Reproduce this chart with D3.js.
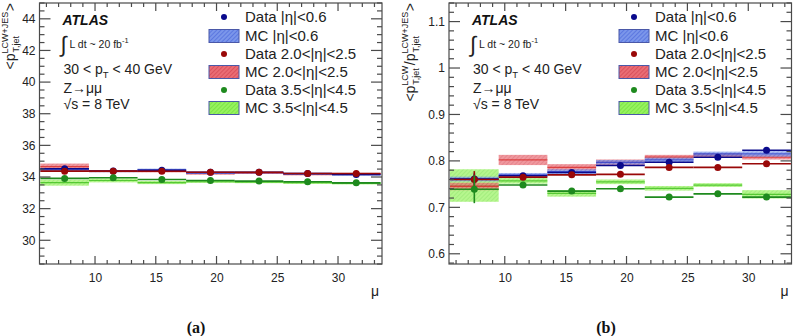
<!DOCTYPE html>
<html><head><meta charset="utf-8">
<script src="https://cdn.jsdelivr.net/npm/d3@7"></script>
<style>
body{margin:0;background:#fff;}
svg{display:block;font-family:"Liberation Sans",Arial,Helvetica,sans-serif;}
</style></head>
<body>
<svg id="c" width="793" height="336"></svg>
<script>
// ---------- data ----------
const binCenters = [7.5, 11.5, 15.5, 19.5, 23.5, 27.5, 31.5];
const binHalfWidth = 2;
const xTicks = [10, 15, 20, 25, 30];

// panel (a): <pT LCW+JES>
const aTicks = [30, 32, 34, 36, 38, 40, 42, 44];
const aDataCentral = [34.52, 34.38, 34.43, 34.30, 34.30, 34.22, 34.16];
const aDataCentralErr = [0.06, 0.03, 0.03, 0.03, 0.03, 0.03, 0.05];
const aDataForward = [34.37, 34.37, 34.36, 34.30, 34.30, 34.22, 34.22];
const aDataForwardErr = [0.06, 0.03, 0.03, 0.03, 0.03, 0.03, 0.05];
const aDataVeryFwd = [33.91, 33.95, 33.84, 33.78, 33.74, 33.70, 33.63];
const aDataVeryFwdErr = [0.06, 0.03, 0.03, 0.03, 0.03, 0.03, 0.05];
const aMcCentral = [34.45, 34.35, 34.45, 34.25, 34.28, 34.20, 34.15];
const aMcCentralErr = [0.12, 0.05, 0.08, 0.06, 0.05, 0.06, 0.06];
const aMcForward = [34.65, 34.35, 34.35, 34.22, 34.25, 34.18, 34.20];
const aMcForwardErr = [0.20, 0.05, 0.06, 0.08, 0.06, 0.08, 0.06];
const aMcVeryFwd = [33.64, 33.78, 33.65, 33.70, 33.68, 33.64, 33.60];
const aMcVeryFwdErr = [0.19, 0.12, 0.10, 0.07, 0.07, 0.08, 0.07];

// panel (b): <pT LCW / pT LCW+JES>
const bTicks = [0.6, 0.7, 0.8, 0.9, 1, 1.1];
const bDataCentral = [0.761, 0.768, 0.775, 0.790, 0.797, 0.808, 0.823];
const bDataCentralErr = [0.012, 0.004, 0.004, 0.004, 0.004, 0.004, 0.004];
const bDataForward = [0.760, 0.765, 0.770, 0.771, 0.786, 0.786, 0.794];
const bDataForwardErr = [0.018, 0.005, 0.005, 0.004, 0.004, 0.004, 0.004];
const bDataVeryFwd = [0.739, 0.748, 0.735, 0.740, 0.722, 0.729, 0.722];
const bDataVeryFwdErr = [0.030, 0.004, 0.004, 0.004, 0.004, 0.004, 0.004];
const bMcCentral = [0.761, 0.770, 0.777, 0.797, 0.802, 0.815, 0.815];
const bMcCentralErr = [0.005, 0.004, 0.005, 0.005, 0.005, 0.005, 0.006];
const bMcForward = [0.745, 0.802, 0.786, 0.797, 0.808, 0.812, 0.808];
const bMcForwardErr = [0.008, 0.011, 0.007, 0.006, 0.005, 0.005, 0.005];
const bMcVeryFwd = [0.747, 0.757, 0.730, 0.755, 0.741, 0.748, 0.728];
const bMcVeryFwdErr = [0.035, 0.006, 0.007, 0.005, 0.005, 0.004, 0.009];

const legendLabels = ["Data |η|<0.6", "MC |η|<0.6", "Data 2.0<|η|<2.5", "MC 2.0<|η|<2.5", "Data 3.5<|η|<4.5", "MC 3.5<|η|<4.5"];

// ---------- styles ----------
const col = {
  blue:  {data:"#0a0a8c", fill:"#7b96ea", hatch:"#3d5ad6", line:"#3344cc"},
  red:   {data:"#990808", fill:"#ea6c74", hatch:"#c93846", line:"#d82c2c"},
  green: {data:"#1e8a1e", fill:"#96f25e", hatch:"#62d82e", line:"#3fbf1f"}
};

const svg = d3.select("#c");
const defs = svg.append("defs");
Object.entries(col).forEach(([k,c])=>{
  const p = defs.append("pattern").attr("id","pat-"+k).attr("patternUnits","userSpaceOnUse")
    .attr("width",3).attr("height",3).attr("patternTransform","rotate(45)");
  p.append("rect").attr("width",3).attr("height",3).attr("fill",c.fill);
  p.append("line").attr("x1",0).attr("y1",0).attr("x2",0).attr("y2",3).attr("stroke",c.hatch).attr("stroke-width",1);
});

function panel(o){
  const x = d3.scaleLinear().domain(o.xDomain).range([o.left,o.right]);
  const y = d3.scaleLinear().domain(o.yDomain).range([o.bottom,o.top]);
  const g = svg.append("g");

  // MC bands
  const mcs = [["green",o.mcVF,o.mcVFe],["red",o.mcF,o.mcFe],["blue",o.mcC,o.mcCe]];
  mcs.forEach(([k,v,e])=>{
    const gg = g.append("g");
    gg.selectAll("rect").data(binCenters).join("rect")
      .attr("x",(d)=>x(d-binHalfWidth)).attr("width",(d)=>x(d+binHalfWidth)-x(d-binHalfWidth))
      .attr("y",(d,i)=>y(v[i]+e[i])).attr("height",(d,i)=>y(v[i]-e[i])-y(v[i]+e[i]))
      .attr("fill","url(#pat-"+k+")").attr("opacity",0.7);
    gg.selectAll("line").data(binCenters).join("line")
      .attr("x1",(d)=>x(d-binHalfWidth)).attr("x2",(d)=>x(d+binHalfWidth))
      .attr("y1",(d,i)=>y(v[i])).attr("y2",(d,i)=>y(v[i]))
      .attr("stroke",col[k].line).attr("stroke-width",1.2).attr("opacity",0.8);
  });
  // data
  const ds = [["blue",o.dC,o.dCe],["red",o.dF,o.dFe],["green",o.dVF,o.dVFe]];
  ds.forEach(([k,v,e])=>{
    const gg = g.append("g");
    gg.selectAll("line.h").data(binCenters).join("line").attr("class","h")
      .attr("x1",(d)=>x(d-binHalfWidth)).attr("x2",(d)=>x(d+binHalfWidth))
      .attr("y1",(d,i)=>y(v[i])).attr("y2",(d,i)=>y(v[i]))
      .attr("stroke",col[k].data).attr("stroke-width",1.6);
    gg.selectAll("line.v").data(binCenters).join("line").attr("class","v")
      .attr("x1",(d)=>x(d)).attr("x2",(d)=>x(d))
      .attr("y1",(d,i)=>y(v[i]+e[i])).attr("y2",(d,i)=>y(v[i]-e[i]))
      .attr("stroke",col[k].data).attr("stroke-width",1.6);
    gg.selectAll("circle").data(binCenters).join("circle")
      .attr("cx",(d)=>x(d)).attr("cy",(d,i)=>y(v[i])).attr("r",3.5)
      .attr("fill",col[k].data);
  });

  // frame + ticks
  const ax = svg.append("g").attr("stroke","#4a4a4a").attr("stroke-width",1.2);
  ax.append("rect").attr("x",o.left).attr("y",o.top).attr("width",o.right-o.left).attr("height",o.bottom-o.top).attr("fill","none");
  const xMinor = d3.range(Math.ceil(o.xDomain[0]), Math.floor(o.xDomain[1])+1);
  xMinor.forEach(t=>{
    const major = xTicks.includes(t);
    const len = major?8:4;
    ax.append("line").attr("x1",x(t)).attr("x2",x(t)).attr("y1",o.bottom).attr("y2",o.bottom-len);
    ax.append("line").attr("x1",x(t)).attr("x2",x(t)).attr("y1",o.top).attr("y2",o.top+len);
  });
  const yMinorStep = o.yMinorStep;
  const yMinor = d3.range(Math.ceil(o.yDomain[0]/yMinorStep-1e-6), Math.floor(o.yDomain[1]/yMinorStep+1e-6)+1).map(i=>+(i*yMinorStep).toFixed(4));
  yMinor.forEach(t=>{
    const major = o.yTicks.some(m=>Math.abs(m-t)<1e-6);
    const len = major?11:5;
    ax.append("line").attr("x1",o.left).attr("x2",o.left+len).attr("y1",y(t)).attr("y2",y(t));
    ax.append("line").attr("x1",o.right).attr("x2",o.right-len).attr("y1",y(t)).attr("y2",y(t));
  });
  // tick labels via axes
  const xAxis = d3.axisBottom(x).tickValues(xTicks).tickSize(0).tickPadding(6).tickFormat(d3.format("d"));
  const xg = svg.append("g").attr("transform",`translate(0,${o.bottom})`).call(xAxis);
  xg.select(".domain").remove();
  xg.attr("font-family",null);
  xg.selectAll("text").attr("font-size",12).attr("fill","#222").attr("dy","1.0em");
  const yAxis = d3.axisLeft(y).tickValues(o.yTicks).tickSize(0).tickPadding(4).tickFormat(o.yFmt);
  const yg = svg.append("g").attr("transform",`translate(${o.left},0)`).call(yAxis);
  yg.select(".domain").remove();
  yg.attr("font-family",null);
  yg.selectAll("text").attr("font-size",12).attr("fill","#222");

  // mu label
  svg.append("text").attr("x",o.right-11).attr("y",296).attr("font-size",14).attr("fill","#222").text("μ");

  // y title (rotated, end aligned at top)
  const tg = svg.append("g");
  let cx = 0;
  o.title.forEach(p=>{
    if(p.main!==undefined){
      const t = tg.append("text").attr("x",cx).attr("y",0).attr("font-size",14).attr("fill","#222").text(p.main);
      cx += t.node().getComputedTextLength();
    } else {
      const s = tg.append("text").attr("x",cx).attr("y",-7).attr("font-size",9).attr("fill","#222").text(p.sup);
      const b = tg.append("text").attr("x",cx+1).attr("y",4).attr("font-size",9).attr("fill","#222").text(p.sub);
      cx += Math.max(s.node().getComputedTextLength(), b.node().getComputedTextLength()+1) + 0.5;
    }
  });
  tg.attr("transform",`translate(${o.titleX},${o.top+cx}) rotate(-90)`);

  // text block
  const L = o.left;
  svg.append("text").attr("x",L+23).attr("y",25).attr("font-size",14).attr("font-weight","bold").attr("font-style","italic").attr("fill","#111").text("ATLAS");
  svg.append("text").attr("x",L+21).attr("y",52).attr("font-size",22).attr("fill","#222").text("∫");
  const lum = svg.append("text").attr("x",L+30).attr("y",48).attr("font-size",10.5).attr("fill","#222");
  lum.append("tspan").text("L dt ~ 20 fb");
  lum.append("tspan").attr("dy",-5).attr("font-size",7.5).text("-1");
  const pt = svg.append("text").attr("x",L+24).attr("y",74).attr("font-size",14).attr("fill","#222");
  pt.append("tspan").text("30 < p");
  pt.append("tspan").attr("dy",4).attr("font-size",9.5).text("T");
  pt.append("tspan").attr("dy",-4).text(" < 40 GeV");
  svg.append("text").attr("x",L+24).attr("y",93).attr("font-size",14).attr("fill","#222").text("Z→μμ");
  svg.append("text").attr("x",L+24).attr("y",109).attr("font-size",14).attr("fill","#222").text("√s = 8 TeV");

  // legend
  const lx = o.legendX;
  const rows = [17, 36, 54, 72, 90, 108];
  const keys = ["blue","blue","red","red","green","green"];
  legendLabels.forEach((lab,i)=>{
    const k = keys[i];
    if(i%2===0){
      svg.append("circle").attr("cx",lx+15).attr("cy",rows[i]).attr("r",3).attr("fill",col[k].data);
    } else {
      svg.append("rect").attr("x",lx).attr("y",rows[i]-6.5).attr("width",30).attr("height",13)
        .attr("fill","url(#pat-"+k+")").attr("stroke","#4a58a8").attr("stroke-width",1);
    }
    svg.append("text").attr("x",lx+36).attr("y",rows[i]+5).attr("font-size",15).attr("fill","#222").text(lab);
  });

  // panel label
  svg.append("text").attr("x",o.labelX).attr("y",333).attr("text-anchor","middle")
    .style("font-family","'Liberation Serif','Times New Roman',serif").attr("font-weight","bold").attr("font-size",16).attr("fill","#111").text(o.label);
}

panel({left:39.5,right:382,top:3,bottom:264,xDomain:[5.43,33.62],yDomain:[28.5,45],
  yTicks:aTicks,yMinorStep:0.5,yFmt:d3.format("d"),
  dC:aDataCentral,dCe:aDataCentralErr,dF:aDataForward,dFe:aDataForwardErr,dVF:aDataVeryFwd,dVFe:aDataVeryFwdErr,
  mcC:aMcCentral,mcCe:aMcCentralErr,mcF:aMcForward,mcFe:aMcForwardErr,mcVF:aMcVeryFwd,mcVFe:aMcVeryFwdErr,
  title:[{main:"<p"},{sup:"LCW+JES",sub:"T,jet"},{main:">"}],titleX:15,
  legendX:209,labelX:196,label:"(a)"});

panel({left:449,right:791.5,top:3,bottom:264,xDomain:[5.42,33.55],yDomain:[0.578,1.14],
  yTicks:bTicks,yMinorStep:0.02,yFmt:(d)=>d===1?"1":d3.format(".1f")(d),
  dC:bDataCentral,dCe:bDataCentralErr,dF:bDataForward,dFe:bDataForwardErr,dVF:bDataVeryFwd,dVFe:bDataVeryFwdErr,
  mcC:bMcCentral,mcCe:bMcCentralErr,mcF:bMcForward,mcFe:bMcForwardErr,mcVF:bMcVeryFwd,mcVFe:bMcVeryFwdErr,
  title:[{main:"<p"},{sup:"LCW",sub:"T,jet"},{main:"/p"},{sup:"LCW+JES",sub:"T,jet"},{main:">"}],titleX:415,
  legendX:619,labelX:606,label:"(b)"});
</script>
</body></html>
